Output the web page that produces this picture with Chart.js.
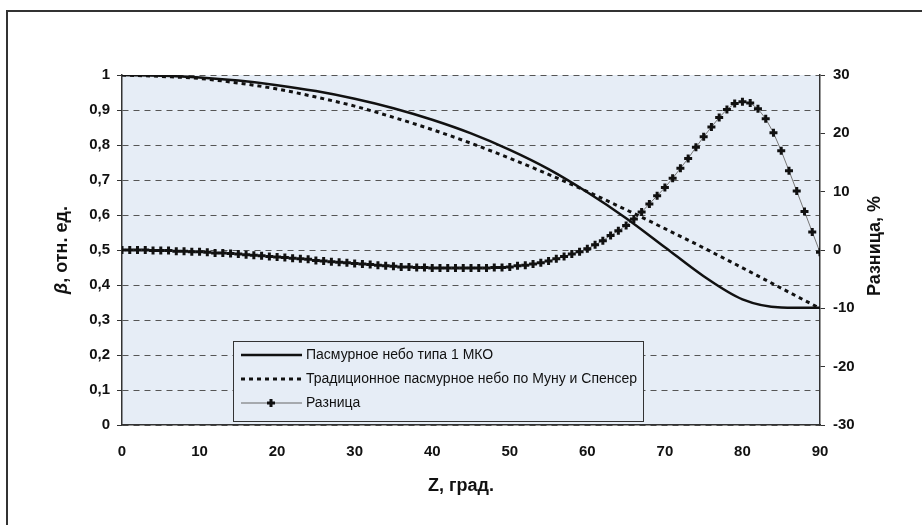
<!DOCTYPE html>
<html>
<head>
<meta charset="utf-8">
<script src="https://cdn.jsdelivr.net/npm/chart.js@4.4.1/dist/chart.umd.min.js"></script>
<style>
  body { margin: 0; background: #fff; }
  #wrap { width: 922px; height: 525px; }
</style>
</head>
<body>
<div id="wrap"><canvas id="skyChart" width="922" height="525"></canvas></div>
<script>
const FONT = "'Liberation Sans', Arial, sans-serif";

// Z, град. for the two luminance curves
const zLine = [0, 5, 10, 15, 20, 25, 30, 35, 40, 45, 50, 55, 60, 65, 70, 75, 80, 85, 90];
// Пасмурное небо типа 1 МКО
const betaCie = [1.0, 0.998, 0.993, 0.984, 0.971, 0.954, 0.932, 0.905, 0.872, 0.833,
  0.786, 0.731, 0.665, 0.591, 0.508, 0.425, 0.359, 0.336, 0.335];
// Традиционное пасмурное небо по Муну и Спенсер
const betaMoon = [1.0, 0.996, 0.99, 0.977, 0.96, 0.937, 0.911, 0.879, 0.844, 0.805,
  0.762, 0.716, 0.667, 0.615, 0.561, 0.506, 0.449, 0.391, 0.333];
// Разница, % (one point per degree, Z = 0..90)
const diffPct = [
  0, 0, 0, 0, -0.1, -0.1, -0.1, -0.2, -0.2, -0.3,
  -0.3, -0.4, -0.5, -0.5, -0.6, -0.7, -0.8, -0.9, -1.0, -1.1,
  -1.2, -1.3, -1.4, -1.5, -1.6, -1.8, -1.9, -2.0, -2.1, -2.2,
  -2.3, -2.4, -2.5, -2.6, -2.7, -2.8, -2.9, -2.9, -3.0, -3.0,
  -3.1, -3.1, -3.1, -3.1, -3.1, -3.1, -3.1, -3.1, -3.0, -3.0,
  -2.9, -2.7, -2.6, -2.4, -2.2, -1.9, -1.5, -1.1, -0.7, -0.3,
  0.2, 0.9, 1.6, 2.5, 3.3, 4.2, 5.3, 6.5, 7.9, 9.3,
  10.7, 12.3, 14.0, 15.7, 17.6, 19.4, 21.1, 22.7, 24.1, 25.1,
  25.4, 25.2, 24.2, 22.5, 20.1, 17.0, 13.6, 10.1, 6.6, 3.1,
  -0.4
];

const seriesNames = [
  "Пасмурное небо типа 1 МКО",
  "Традиционное пасмурное небо по Муну и Спенсер",
  "Разница",
];

// page frame, plot background, axis titles and the boxed legend
const decor = {
  id: "decor",
  beforeDraw(chart) {
    const { ctx, chartArea } = chart;
    ctx.save();
    ctx.fillStyle = "#fff";
    ctx.fillRect(0, 0, chart.width, chart.height);
    ctx.fillStyle = "#e6edf6";
    ctx.fillRect(chartArea.left, chartArea.top, chartArea.right - chartArea.left, chartArea.bottom - chartArea.top);
    ctx.restore();
  },
  afterDatasetsDraw(chart) {
    const { ctx } = chart;
    ctx.save();
    // legend box
    const bx = 233, by = 341, bw = 410, bh = 80;
    ctx.fillStyle = "#e6edf6";
    ctx.fillRect(bx, by, bw, bh);
    ctx.strokeStyle = "#333";
    ctx.lineWidth = 1;
    ctx.strokeRect(bx + 0.5, by + 0.5, bw, bh);
    const rows = [355, 379, 403];
    ctx.font = "14px " + FONT;
    ctx.textBaseline = "middle";
    ctx.textAlign = "left";
    chart.data.datasets.forEach((ds, i) => {
      const y = rows[i];
      ctx.save();
      ctx.strokeStyle = i === 2 ? "#666" : "#111";
      ctx.lineWidth = ds.borderWidth;
      ctx.setLineDash(ds.borderDash || []);
      ctx.beginPath();
      ctx.moveTo(241, y);
      ctx.lineTo(302, y);
      ctx.stroke();
      ctx.restore();
      if (i === 2) {
        ctx.save();
        ctx.strokeStyle = "#111";
        ctx.lineWidth = 3;
        ctx.beginPath();
        ctx.moveTo(271 - 4, y);
        ctx.lineTo(271 + 4, y);
        ctx.moveTo(271, y - 4);
        ctx.lineTo(271, y + 4);
        ctx.stroke();
        ctx.restore();
      }
      ctx.fillStyle = "#111";
      ctx.fillText(ds.label, 306, y);
    });
    ctx.restore();
  },
  afterDraw(chart) {
    const { ctx } = chart;
    ctx.save();
    // outer frame (top and left edges only)
    ctx.strokeStyle = "#333";
    ctx.lineWidth = 2;
    ctx.beginPath();
    ctx.moveTo(7, chart.height);
    ctx.lineTo(7, 11);
    ctx.lineTo(chart.width, 11);
    ctx.stroke();

    ctx.fillStyle = "#111";
    ctx.textBaseline = "middle";
    // x title
    ctx.font = "bold 18px " + FONT;
    ctx.textAlign = "center";
    ctx.fillText("Z, град.", 461, 486);

    // left title with italic beta
    ctx.save();
    ctx.translate(62, 250);
    ctx.rotate(-Math.PI / 2);
    const beta = "β";
    const rest = ", отн. ед.";
    ctx.font = "italic bold 18px " + FONT;
    const wb = ctx.measureText(beta).width;
    ctx.font = "bold 18px " + FONT;
    const wr = ctx.measureText(rest).width;
    const start = -(wb + wr) / 2;
    ctx.textAlign = "left";
    ctx.font = "italic bold 18px " + FONT;
    ctx.fillText(beta, start, 0);
    ctx.font = "bold 18px " + FONT;
    ctx.fillText(rest, start + wb, 0);
    ctx.restore();

    // right title, reads bottom to top
    ctx.save();
    ctx.translate(875, 246);
    ctx.rotate(-Math.PI / 2);
    ctx.textAlign = "center";
    ctx.font = "bold 18px " + FONT;
    ctx.fillText("Разница, %", 0, 0);
    ctx.restore();
    ctx.restore();
  },
};

const tickFont = { family: FONT, size: 15, weight: "bold" };

new Chart(document.getElementById("skyChart"), {
  type: "line",
  data: {
    datasets: [
      {
        label: seriesNames[0],
        data: zLine.map((z, i) => ({ x: z, y: betaCie[i] })),
        borderColor: "#111",
        borderWidth: 2.5,
        pointRadius: 0,
        cubicInterpolationMode: "monotone",
        yAxisID: "y",
      },
      {
        label: seriesNames[1],
        data: zLine.map((z, i) => ({ x: z, y: betaMoon[i] })),
        borderColor: "#111",
        borderWidth: 3,
        borderDash: [4, 4],
        pointRadius: 0,
        cubicInterpolationMode: "monotone",
        yAxisID: "y",
      },
      {
        label: seriesNames[2],
        data: diffPct.map((v, i) => ({ x: i, y: v })),
        borderColor: "#777",
        borderWidth: 1,
        pointStyle: "cross",
        pointRadius: 4,
        pointBorderWidth: 3,
        pointBorderColor: "#111",
        tension: 0,
        yAxisID: "y1",
      },
    ],
  },
  options: {
    responsive: false,
    animation: false,
    events: [],
    layout: { padding: { top: 75, left: 0, right: 0, bottom: 0 } },
    plugins: {
      legend: { display: false },
      tooltip: { enabled: false },
    },
    scales: {
      x: {
        type: "linear",
        min: 0,
        max: 90,
        afterFit: (scale) => { scale.height = 100; },
        grid: { display: false, drawTicks: false },
        border: { display: true, color: "#333", width: 1.5 },
        ticks: { stepSize: 10, padding: 18, color: "#111", font: tickFont },
      },
      y: {
        position: "left",
        min: 0,
        max: 1,
        afterFit: (scale) => { scale.width = 122; },
        grid: {
          color: "#555",
          lineWidth: 1,
          tickLength: 5,
          tickColor: "#333",
          tickBorderDash: [],
        },
        border: { display: true, color: "#333", width: 1.5, dash: [6, 5] },
        ticks: {
          stepSize: 0.1,
          padding: 7,
          color: "#111",
          font: tickFont,
          callback: (v) => (v === 0 || v === 1 ? String(v) : v.toFixed(1).replace(".", ",")),
        },
      },
      y1: {
        position: "right",
        min: -30,
        max: 30,
        afterFit: (scale) => { scale.width = 102; },
        grid: { drawOnChartArea: false, tickLength: 5, color: "#333", tickBorderDash: [] },
        border: { display: true, color: "#333", width: 1.5 },
        ticks: { stepSize: 10, padding: 8, color: "#111", font: tickFont, callback: (v) => String(v) },
      },
    },
  },
  plugins: [decor],
});
</script>
</body>
</html>
